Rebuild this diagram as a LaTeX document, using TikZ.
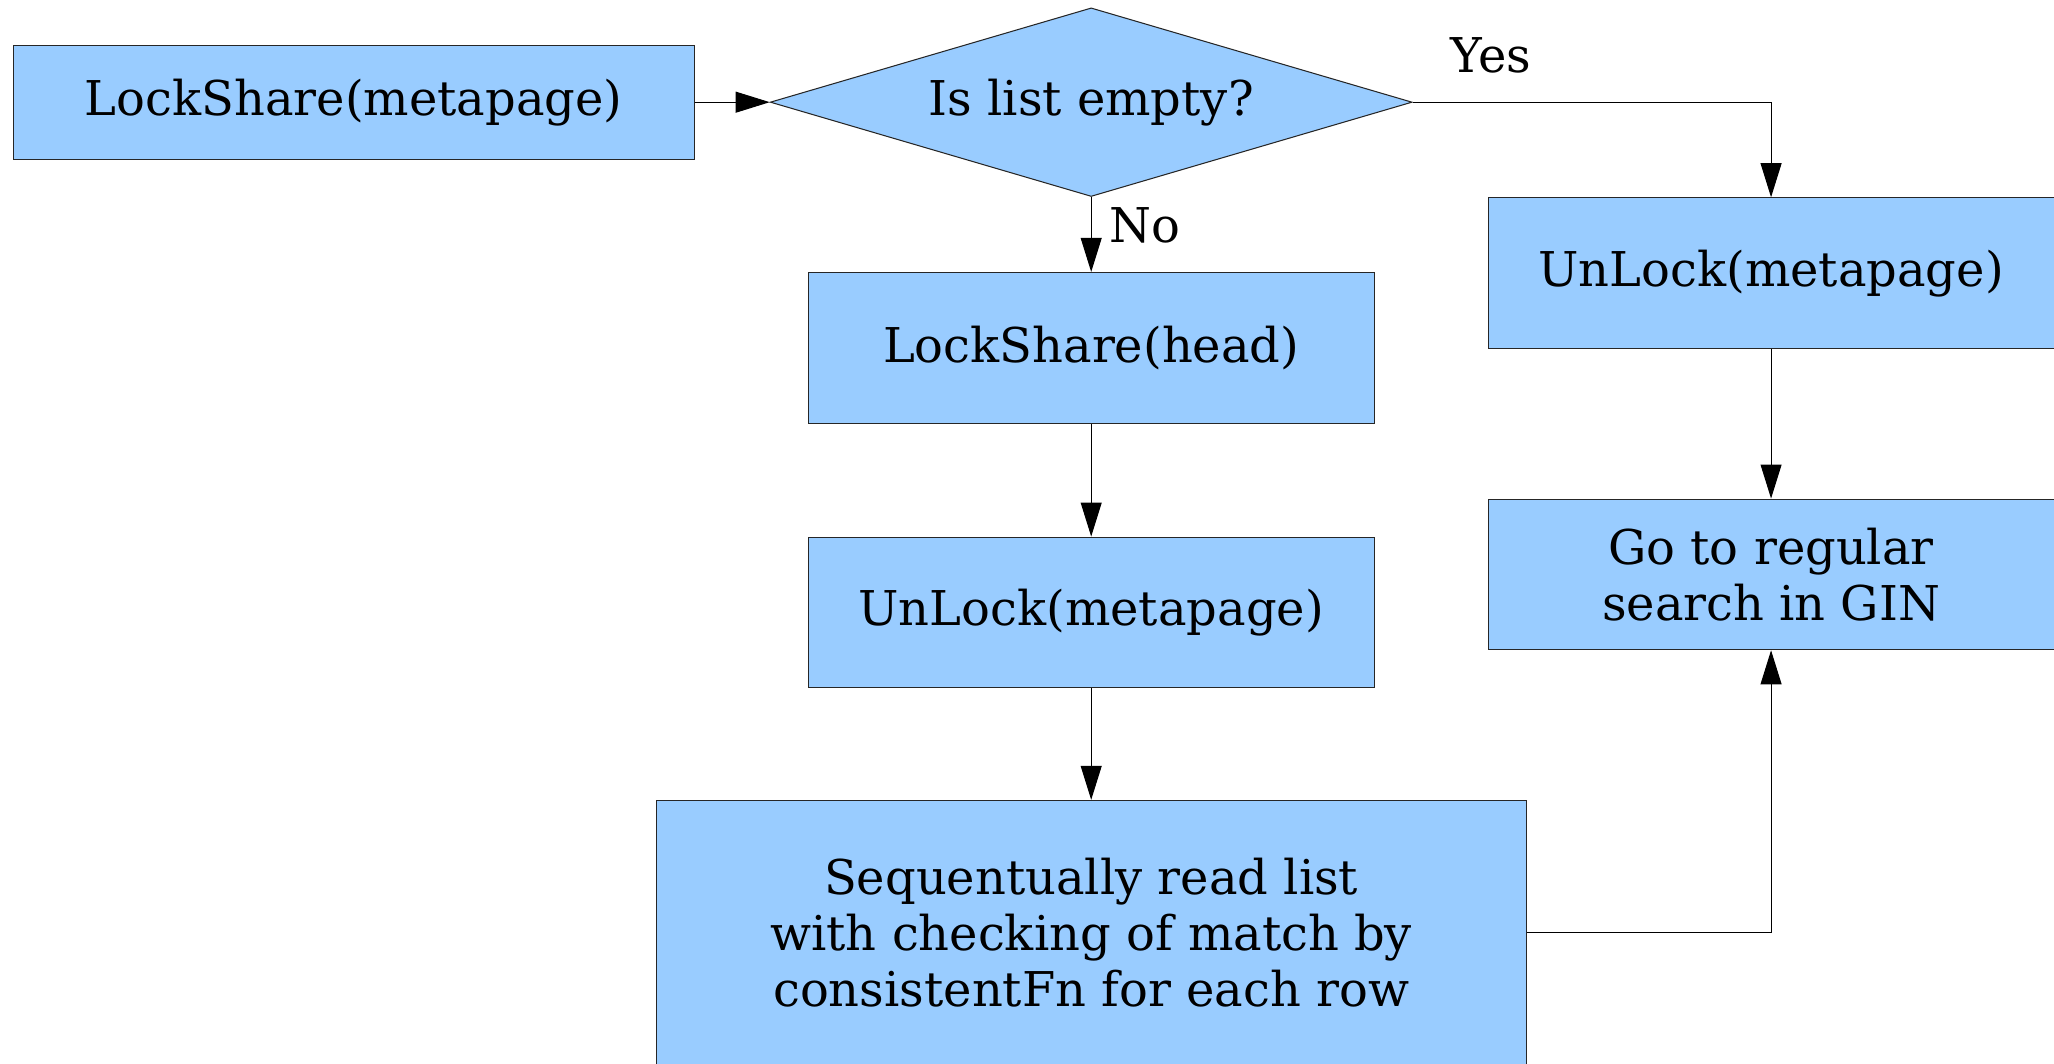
\documentclass[tikz,border=0pt]{standalone}
\usepackage{fontspec}
\setmainfont{DejaVu Serif}
\usetikzlibrary{arrows.meta,shapes.geometric}
\definecolor{boxfill}{HTML}{99CCFF}
\begin{document}
\begin{tikzpicture}[x=1pt,y=-1pt,
  every node/.style={font=\fontsize{36.6}{43}\selectfont},
  stepbox/.style={draw=black!85,line width=0.8pt,fill=boxfill,rectangle,
    minimum width=432pt,minimum height=115pt,inner sep=0pt,align=center},
  decision/.style={draw=black!85,line width=0.8pt,fill=boxfill,diamond,
    aspect=3.4,minimum width=490pt,minimum height=144pt,inner sep=0pt},
  flow/.style={line width=0.8pt,-{Triangle[length=26pt,width=16pt]}},
  lbl/.style={inner sep=0pt}]
  \useasboundingbox (0,0) rectangle (1568,812);

  % nodes
  \node[stepbox,minimum width=520pt,minimum height=87pt] (lockmeta) at (270,78) {LockShare(metapage)};
  \node[decision] (empty) at (833,78) {Is list empty?};
  \node[stepbox] (lockhead) at (833,265.5) {LockShare(head)};
  \node[stepbox] (unlockA) at (833,467.5) {UnLock(metapage)};
  \node[stepbox,minimum width=664pt,minimum height=202pt] (seqread) at (833,712)
    {Sequentually read list\\with checking of match by\\ consistentFn for each row};
  \node[stepbox] (unlockB) at (1352,208.5) {UnLock(metapage)};
  \node[stepbox] (regular) at (1352,438.5) {Go to regular\\search in GIN};

  % branch labels
  \node[lbl] (yes) at (1138,42) {Yes};
  \node[lbl,anchor=west] (no) at (847,172) {No};

  % connectors
  \draw[flow] (lockmeta.east) -- (empty.west);
  \draw[flow] (empty.east) -| (unlockB.north);
  \draw[flow] (empty.south) -- (lockhead.north);
  \draw[flow] (lockhead.south) -- (unlockA.north);
  \draw[flow] (unlockA.south) -- (seqread.north);
  \draw[flow] (unlockB.south) -- (regular.north);
  \draw[flow] (seqread.east) -| (regular.south);
\end{tikzpicture}
\end{document}
